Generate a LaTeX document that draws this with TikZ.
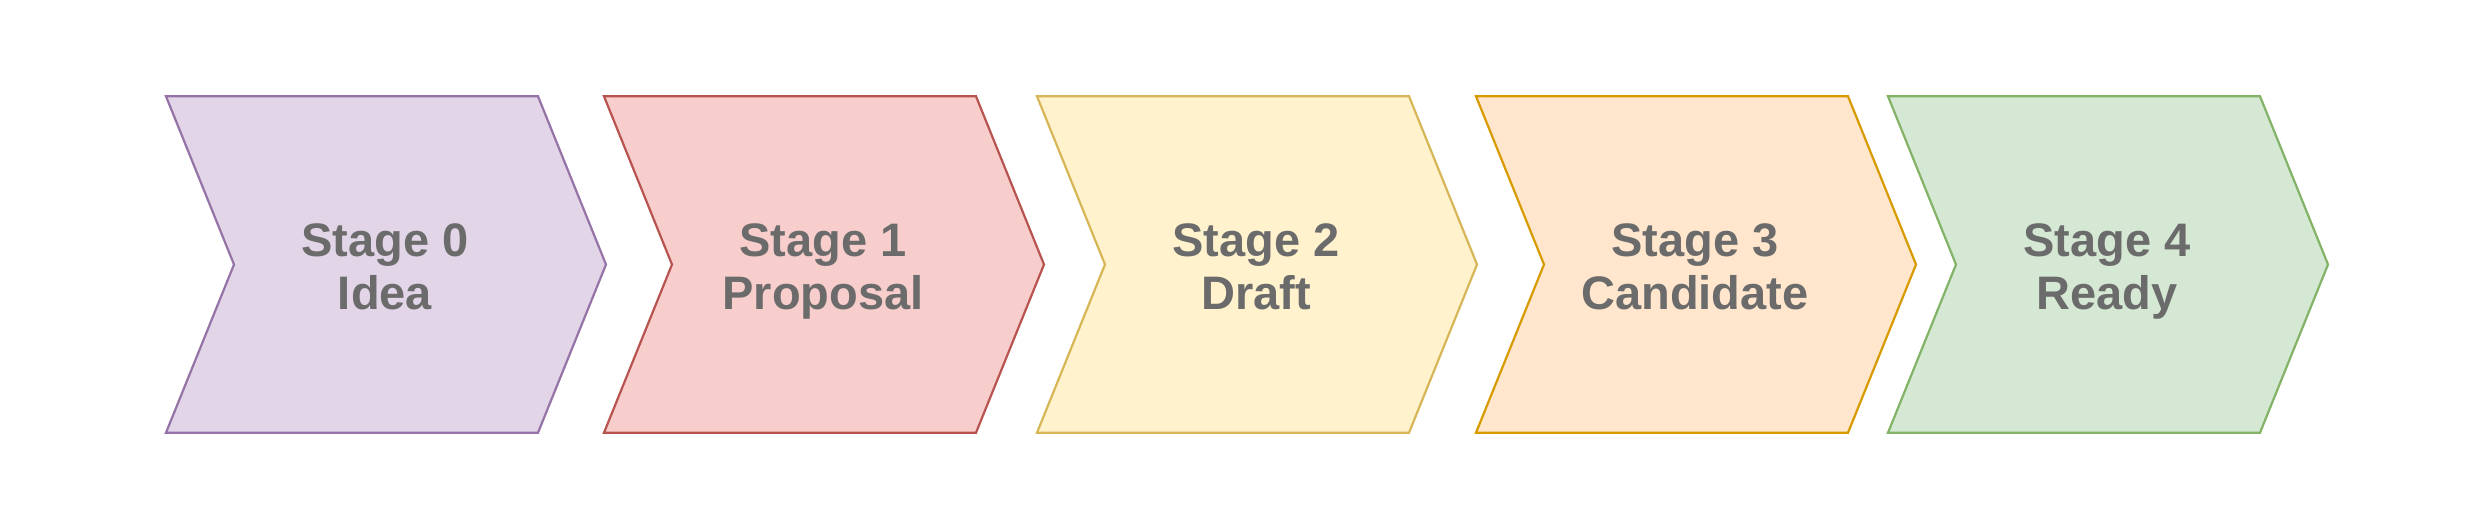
\documentclass[tikz,border=0pt]{standalone}
\usepackage{fontspec}
\setmainfont{Liberation Sans}
\definecolor{f0}{HTML}{E1D5E7}\definecolor{d0}{HTML}{9673A6}
\definecolor{f1}{HTML}{F8CECC}\definecolor{d1}{HTML}{B85450}
\definecolor{f2}{HTML}{FFF2CC}\definecolor{d2}{HTML}{D6B656}
\definecolor{f3}{HTML}{FFE6CC}\definecolor{d3}{HTML}{D79B00}
\definecolor{f4}{HTML}{D5E8D4}\definecolor{d4}{HTML}{82B366}
\definecolor{txt}{HTML}{6B6B6B}
\tikzset{
  chev/.style={line width=2.2pt, line join=miter},
  lbl/.style={text=txt, font=\fontsize{47}{53}\selectfont\bfseries, inner sep=0pt, anchor=base}
}
\newcommand{\chevron}[3]{% left x, fill, draw
  \draw[chev, fill=#2, draw=#3] (#1,96.3) -- ++(372,0) -- ++(68,168.2) -- ++(-68,168.2) -- ++(-372,0) -- ++(68,-168.2) -- cycle;
}
\begin{document}
\begin{tikzpicture}[x=1pt,y=-1pt]
\useasboundingbox (0,0) rectangle (2486,526);
\fill[white] (0,0) rectangle (2486,526);
\chevron{166}{f0}{d0}
\chevron{604}{f1}{d1}
\chevron{1037}{f2}{d2}
\chevron{1476}{f3}{d3}
\chevron{1888}{f4}{d4}
\node[lbl] (t0a) at (385,256.5) {Stage 0};
\node[lbl] (t0b) at (385,310) {Idea};
\node[lbl] (t1a) at (823,256.5) {Stage 1};
\node[lbl] (t1b) at (823,310) {Proposal};
\node[lbl] (t2a) at (1256,256.5) {Stage 2};
\node[lbl] (t2b) at (1256,310) {Draft};
\node[lbl] (t3a) at (1695,256.5) {Stage 3};
\node[lbl] (t3b) at (1695,310) {Candidate};
\node[lbl] (t4a) at (2107,256.5) {Stage 4};
\node[lbl] (t4b) at (2107,310) {Ready};
\end{tikzpicture}
\end{document}
